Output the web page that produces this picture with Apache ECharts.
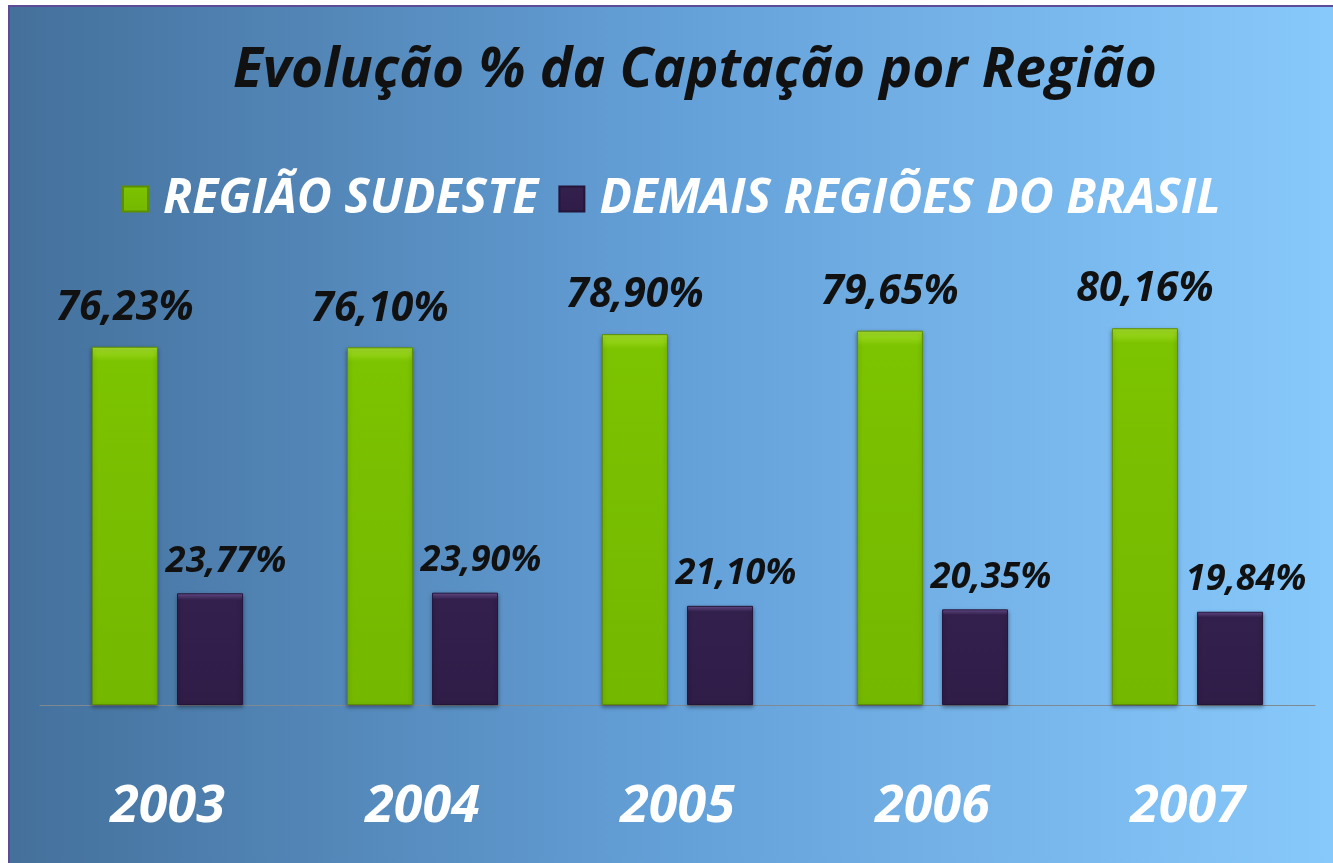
<!DOCTYPE html>
<html>
<head>
<meta charset="utf-8">
<script src="https://cdn.jsdelivr.net/npm/echarts@6/dist/echarts.min.js"></script>
<style>
  body { margin: 0; background: #fff; }
  #wrap { position: relative; width: 1333px; height: 863px; overflow: hidden; }
  #chart {
    position: absolute; left: 8px; top: 5px;
    width: 1325px; height: 858px;
    border-left: 2px solid #5c4c98; border-top: 2px solid #5c4c98;
  }
</style>
</head>
<body>
<div id="wrap"><div id="chart"></div></div>
<script>
const years = ["2003", "2004", "2005", "2006", "2007"];
const sudeste = [76.23, 76.10, 78.90, 79.65, 80.16];
const demais = [23.77, 23.90, 21.10, 20.35, 19.84];

const font = "Open Sans";
const fmt = (p) => p.value.toFixed(2).replace(".", ",") + "%";

const chart = echarts.init(document.getElementById("chart"));
chart.setOption({
  backgroundColor: new echarts.graphic.LinearGradient(0, 0, 1, 0, [
    { offset: 0, color: "#44709b" },
    { offset: 0.5, color: "#64a0d8" },
    { offset: 1, color: "#88c9fb" },
  ]),
  title: {
    text: "Evolução % da Captação por Região",
    left: 218,
    top: 32,
    textStyle: {
      fontFamily: font, fontSize: 55, fontWeight: "bold",
      fontStyle: "italic", color: "#111",
    },
  },
  legend: {
    top: 163,
    left: 107,
    itemWidth: 25,
    itemHeight: 25,
    itemGap: 20,
    icon: "rect",
    textStyle: {
      fontFamily: font, fontSize: 48, fontWeight: "bold",
      fontStyle: "italic", color: "#fff",
      padding: [0, 0, 0, 10],
    },
    data: ["REGIÃO SUDESTE", "DEMAIS REGIÕES DO BRASIL"],
  },
  grid: { left: 30, right: 20, top: 228, bottom: 160 },
  xAxis: {
    type: "category",
    data: years,
    axisLine: { lineStyle: { color: "#808890", width: 1 } },
    axisTick: { show: false },
    axisLabel: {
      margin: 76,
      fontFamily: font, fontSize: 52, fontWeight: "bold",
      fontStyle: "italic", color: "#fff",
    },
  },
  yAxis: { type: "value", min: 0, max: 100, show: false },
  series: [
    {
      name: "REGIÃO SUDESTE",
      type: "bar",
      data: sudeste,
      barWidth: 66,
      barGap: "29%",
      itemStyle: {
        color: new echarts.graphic.LinearGradient(0, 0, 0, 1, [
          { offset: 0, color: "#a6e02a" },
          { offset: 0.04, color: "#7cc300" },
          { offset: 1, color: "#74b800" },
        ]),
        borderColor: "#5c8f00",
        borderWidth: 1,
        shadowColor: "rgba(0,0,0,0.35)",
        shadowBlur: 4,
        shadowOffsetY: 2,
      },
      label: {
        show: true, position: "top", distance: 18,
        formatter: fmt,
        fontFamily: font, fontSize: 41, fontWeight: "bold",
        fontStyle: "italic", color: "#111",
      },
    },
    {
      name: "DEMAIS REGIÕES DO BRASIL",
      type: "bar",
      data: demais,
      barWidth: 66,
      itemStyle: {
        color: new echarts.graphic.LinearGradient(0, 0, 0, 1, [
          { offset: 0, color: "#6a4f8e" },
          { offset: 0.06, color: "#33204d" },
          { offset: 1, color: "#2f1c47" },
        ]),
        borderColor: "#24153a",
        borderWidth: 1,
        shadowColor: "rgba(0,0,0,0.35)",
        shadowBlur: 4,
        shadowOffsetY: 2,
      },
      label: {
        show: true, position: "top", distance: 14, offset: [16, 0],
        formatter: fmt,
        fontFamily: font, fontSize: 36, fontWeight: "bold",
        fontStyle: "italic", color: "#111",
      },
    },
  ],
});
</script>
</body>
</html>
